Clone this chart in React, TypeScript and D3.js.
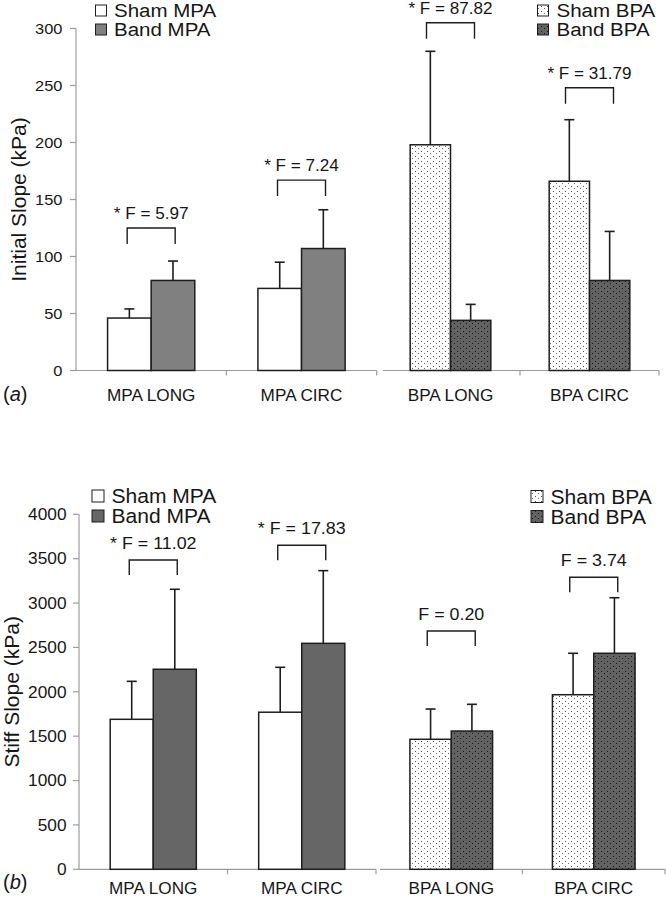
import React from "react";
import * as d3 from "d3";

// ---------- data ----------
const categories = ["MPA LONG", "MPA CIRC", "BPA LONG", "BPA CIRC"];
const series = ["Sham", "Band"];

const initialTicks = [0, 50, 100, 150, 200, 250, 300];
const initialSham = [46, 72, 198, 166];
const initialShamSd = [8, 23, 82, 54];
const initialBand = [79, 107, 44, 79];
const initialBandSd = [17, 34, 14, 43];
const initialBracket = [125, 167, 305, 248];
const initialF = ["* F = 5.97", "* F = 7.24", "* F = 87.82", "* F = 31.79"];

const stiffTicks = [0, 500, 1000, 1500, 2000, 2500, 3000, 3500, 4000];
const stiffSham = [1690, 1770, 1465, 1967];
const stiffShamSd = [428, 506, 341, 467];
const stiffBand = [2254, 2546, 1558, 2434];
const stiffBandSd = [901, 819, 301, 626];
const stiffBracket = [3485, 3651, 2685, 3290];
const stiffF = ["* F = 11.02", "* F = 17.83", "F = 0.20", "F = 3.74"];

const legendMPA = ["Sham MPA", "Band MPA"];
const legendBPA = ["Sham BPA", "Band BPA"];

const FONT = "'Liberation Sans', Arial, sans-serif";
const TXT = "#161616";
const AXIS = "#9c9c9c";
const EDGE = "#1e1e1e";

function T({ x, y, size, sx = 1, anchor = "start", children, rot = 0 }: any) {
  const tr = rot
    ? `translate(${x},${y}) rotate(${rot}) scale(${sx},1)`
    : `translate(${x},${y}) scale(${sx},1)`;
  return (
    <text transform={tr} fontSize={size} textAnchor={anchor} fill={TXT} fontFamily={FONT}>
      {children}
    </text>
  );
}

function Panel({ c, ticks, sham, shamSd, band, bandSd, brackets, fLabels, title, tag }: any) {
  const yMax = ticks[ticks.length - 1];
  const y = d3.scaleLinear().domain([0, yMax]).range([c.zero, c.top]);
  const xL = d3.scaleBand().domain(categories.slice(0, 2)).range(c.leftRange).paddingInner(0.42).paddingOuter(0.21);
  const xR = d3.scaleBand().domain(categories.slice(2)).range(c.rightRange).paddingInner(0.42).paddingOuter(0.21);
  const fills = [
    ["#ffffff", c.bandMPA],
    ["url(#dotsLight)", "url(#dotsDark)"],
  ];
  const groups = categories.map((cat, i) => {
    const xs = i < 2 ? xL : xR;
    const x0 = xs(cat) as number;
    const bw = xs.bandwidth();
    const sub = d3.scaleBand().domain(series).range([x0, x0 + bw]);
    return { cat, i, xs, x0, bw, sub, center: x0 + bw / 2 };
  });
  const boundsL = [c.leftRange[0], ...categories.slice(0, 2).map((k) => (xL(k) as number) - xL.step() * 0.21 + xL.step())];
  const boundsR = categories.slice(2).map((k) => (xR(k) as number) - xR.step() * 0.21 + xR.step());

  return (
    <g>
      {/* y axis */}
      <line x1={c.axisX} x2={c.axisX} y1={y(0)} y2={y(yMax)} stroke={AXIS} strokeWidth={1.2} />
      {ticks.map((t: number) => (
        <g key={t}>
          <line x1={c.axisX - 6} x2={c.axisX} y1={y(t)} y2={y(t)} stroke={AXIS} strokeWidth={1.2} />
          <text
            transform={`translate(${c.axisX - c.tickGap},${y(t) + c.tickSize * 0.36}) scale(${c.tickSx},1)`}
            fontSize={c.tickSize}
            textAnchor="end"
            fill={TXT}
            fontFamily={FONT}
          >
            {t}
          </text>
        </g>
      ))}
      {/* x axes */}
      <line x1={c.axisX} x2={boundsL[2]} y1={y(0)} y2={y(0)} stroke={AXIS} strokeWidth={1.2} />
      {boundsL.slice(1).map((b: number, k: number) => (
        <line key={"tl" + k} x1={b} x2={b} y1={y(0)} y2={y(0) + 5} stroke={AXIS} strokeWidth={1.2} />
      ))}
      <line x1={c.rightAxisStart} x2={boundsR[1]} y1={y(0)} y2={y(0)} stroke={AXIS} strokeWidth={1.2} />
      {boundsR.map((b: number, k: number) => (
        <line key={"tr" + k} x1={b} x2={b} y1={y(0)} y2={y(0) + 5} stroke={AXIS} strokeWidth={1.2} />
      ))}

      {/* bars */}
      {groups.map((g) => {
        const vals = [sham[g.i], band[g.i]];
        const sds = [shamSd[g.i], bandSd[g.i]];
        const pal = fills[g.i < 2 ? 0 : 1];
        return (
          <g key={g.cat}>
            {series.map((s, k) => {
              const bx = g.sub(s) as number;
              const w = g.sub.bandwidth();
              const cx = bx + w / 2;
              return (
                <g key={s}>
                  <line x1={cx} x2={cx} y1={y(vals[k])} y2={y(vals[k] + sds[k])} stroke={EDGE} strokeWidth={1.6} />
                  <line x1={cx - 5} x2={cx + 5} y1={y(vals[k] + sds[k])} y2={y(vals[k] + sds[k])} stroke={EDGE} strokeWidth={1.6} />
                  <rect x={bx} y={y(vals[k])} width={w} height={y(0) - y(vals[k])} fill={pal[k]} stroke={EDGE} strokeWidth={1.5} />
                </g>
              );
            })}
            {/* bracket */}
            <path
              d={`M${g.center - 24},${y(brackets[g.i]) + c.legLen}V${y(brackets[g.i])}H${g.center + 24}V${y(brackets[g.i]) + c.legLen}`}
              fill="none"
              stroke={EDGE}
              strokeWidth={1.4}
            />
            <T x={g.center} y={y(brackets[g.i]) - c.fOffset} size={c.fSize} sx={c.fSx} anchor="middle">
              {fLabels[g.i]}
            </T>
            {/* category label */}
            <T x={g.center} y={c.labelBase} size={c.catSize} sx={c.catSx} anchor="middle">
              {g.cat}
            </T>
          </g>
        );
      })}

      {/* y title */}
      <T x={c.titleX} y={(y(0) + y(yMax)) / 2} size={21} rot={-90} anchor="middle">
        {title}
      </T>
      {/* tag */}
      <text x={3} y={c.tagBase} fontSize={20} fill={TXT} fontFamily={FONT}>
        (<tspan fontStyle="italic">{tag}</tspan>)
      </text>

      {/* legends */}
      {[c.legL, c.legR].map((L: any, li: number) => {
        const names = li === 0 ? legendMPA : legendBPA;
        return (
          <g key={"leg" + li}>
            {names.map((n: string, k: number) => (
              <g key={n}>
                <rect
                  x={L.boxX}
                  y={L.base[k] - L.box - 1}
                  width={L.box}
                  height={L.box}
                  fill={fills[li][k]}
                  stroke={EDGE}
                  strokeWidth={1}
                />
                <T x={L.textX} y={L.base[k]} size={c.legSize} sx={c.legSx}>
                  {n}
                </T>
              </g>
            ))}
          </g>
        );
      })}
    </g>
  );
}

const cfgA = {
  axisX: 76,
  zero: 370.5,
  top: 28.5,
  leftRange: [76, 376.7],
  rightRange: [381, 659],
  rightAxisStart: 383,
  bandMPA: "#808080",
  tickGap: 13.5,
  tickSize: 15.5,
  tickSx: 1.06,
  fSize: 16.3,
  fSx: 1.05,
  fOffset: 9,
  legLen: 16,
  catSize: 16.3,
  catSx: 1.055,
  labelBase: 401,
  tagBase: 401,
  titleX: 25.5,
  legSize: 19,
  legSx: 1.08,
  legL: { boxX: 95.5, box: 11, textX: 114, base: [17, 36] },
  legR: { boxX: 537.5, box: 11, textX: 556.5, base: [17, 36] },
};

const cfgB = {
  axisX: 79,
  zero: 869.3,
  top: 514.3,
  leftRange: [79, 376],
  rightRange: [380, 665],
  rightAxisStart: 380,
  bandMPA: "#666666",
  tickGap: 12.5,
  tickSize: 16,
  tickSx: 1.08,
  fSize: 17,
  fSx: 1.05,
  fOffset: 11,
  legLen: 15,
  catSize: 16.5,
  catSx: 1.04,
  labelBase: 894,
  tagBase: 889,
  titleX: 18.5,
  legSize: 19.5,
  legSx: 1.08,
  legL: { boxX: 92, box: 12, textX: 111.5, base: [503, 523] },
  legR: { boxX: 531, box: 12, textX: 550.5, base: [503.5, 523.5] },
};

export default function App() {
  return (
    <svg
      width={666}
      height={900}
      viewBox="0 0 666 900"
      style={{ position: "absolute", left: 0, top: 0, background: "#fff" }}
    >
      <defs>
        <pattern id="dotsLight" patternUnits="userSpaceOnUse" width={6} height={5}>
          <rect width={6} height={5} fill="#ffffff" />
          <rect x={1} y={1} width={1} height={1} fill="#505050" />
          <rect x={4} y={3} width={1} height={1} fill="#707070" />
        </pattern>
        <pattern id="dotsDark" patternUnits="userSpaceOnUse" width={6} height={5}>
          <rect width={6} height={5} fill="#626262" />
          <rect x={1} y={1} width={1} height={1} fill="#1a1a1a" />
          <rect x={4} y={3} width={1} height={1} fill="#1a1a1a" />
        </pattern>
      </defs>
      <rect width={666} height={900} fill="#fff" />
      <Panel
        c={cfgA}
        ticks={initialTicks}
        sham={initialSham}
        shamSd={initialShamSd}
        band={initialBand}
        bandSd={initialBandSd}
        brackets={initialBracket}
        fLabels={initialF}
        title="Initial Slope (kPa)"
        tag="a"
      />
      <Panel
        c={cfgB}
        ticks={stiffTicks}
        sham={stiffSham}
        shamSd={stiffShamSd}
        band={stiffBand}
        bandSd={stiffBandSd}
        brackets={stiffBracket}
        fLabels={stiffF}
        title="Stiff Slope (kPa)"
        tag="b"
      />
    </svg>
  );
}
